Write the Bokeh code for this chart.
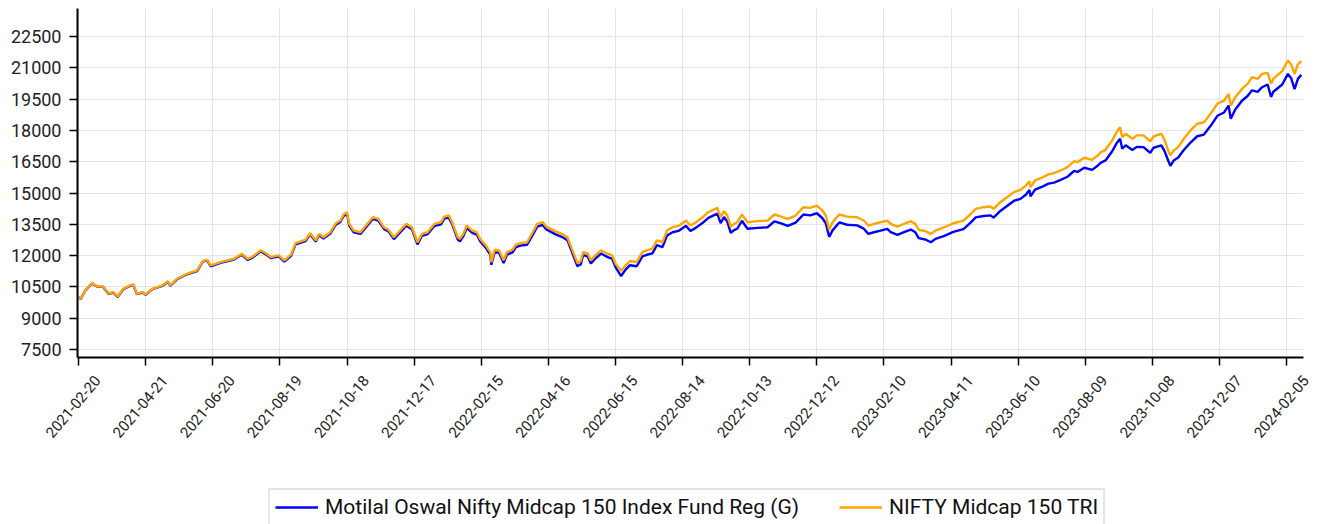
import pandas as pd
from bokeh.plotting import figure
from bokeh.layouts import column
from bokeh.models import (Range1d, FixedTicker, Legend, LegendItem, ColumnDataSource,
                          CustomJSTickFormatter, DatetimeTickFormatter)
from bokeh.embed import file_html
from bokeh.resources import INLINE

dates = [
    "2021-02-20", "2021-02-22", "2021-02-26", "2021-03-04", "2021-03-09", "2021-03-14", "2021-03-19", "2021-03-23",
    "2021-03-27", "2021-04-01", "2021-04-07", "2021-04-10", "2021-04-13", "2021-04-18", "2021-04-21", "2021-04-27",
    "2021-05-06", "2021-05-11", "2021-05-13", "2021-05-19", "2021-05-28", "2021-06-06", "2021-06-11", "2021-06-15",
    "2021-06-18", "2021-06-27", "2021-07-09", "2021-07-16", "2021-07-21", "2021-07-25", "2021-08-02", "2021-08-06",
    "2021-08-11", "2021-08-18", "2021-08-23", "2021-08-29", "2021-09-02", "2021-09-11", "2021-09-15", "2021-09-20",
    "2021-09-23", "2021-09-27", "2021-10-03", "2021-10-08", "2021-10-12", "2021-10-15", "2021-10-18", "2021-10-20",
    "2021-10-24", "2021-10-30", "2021-11-04", "2021-11-10", "2021-11-15", "2021-11-20", "2021-11-24", "2021-11-29",
    "2021-12-03", "2021-12-10", "2021-12-15", "2021-12-20", "2021-12-24", "2021-12-29", "2022-01-04", "2022-01-10",
    "2022-01-13", "2022-01-17", "2022-01-20", "2022-01-25", "2022-01-27", "2022-01-30", "2022-02-02", "2022-02-07",
    "2022-02-11", "2022-02-14", "2022-02-19", "2022-02-23", "2022-02-24", "2022-02-27", "2022-03-03", "2022-03-07",
    "2022-03-10", "2022-03-15", "2022-03-18", "2022-03-22", "2022-03-28", "2022-04-02", "2022-04-06", "2022-04-11",
    "2022-04-14", "2022-04-18", "2022-04-22", "2022-04-28", "2022-05-03", "2022-05-07", "2022-05-12", "2022-05-15",
    "2022-05-17", "2022-05-21", "2022-05-24", "2022-05-28", "2022-06-02", "2022-06-08", "2022-06-12", "2022-06-15",
    "2022-06-20", "2022-06-24", "2022-06-28", "2022-07-04", "2022-07-09", "2022-07-13", "2022-07-18", "2022-07-22",
    "2022-07-27", "2022-07-31", "2022-08-05", "2022-08-11", "2022-08-17", "2022-08-21", "2022-08-26", "2022-09-01",
    "2022-09-06", "2022-09-14", "2022-09-17", "2022-09-20", "2022-09-23", "2022-09-26", "2022-09-29", "2022-10-02",
    "2022-10-06", "2022-10-11", "2022-10-20", "2022-10-29", "2022-11-04", "2022-11-10", "2022-11-16", "2022-11-23",
    "2022-11-30", "2022-12-06", "2022-12-12", "2022-12-17", "2022-12-20", "2022-12-23", "2022-12-26", "2023-01-01",
    "2023-01-08", "2023-01-17", "2023-01-23", "2023-01-27", "2023-02-01", "2023-02-07", "2023-02-13", "2023-02-16",
    "2023-02-22", "2023-03-01", "2023-03-06", "2023-03-10", "2023-03-13", "2023-03-19", "2023-03-24", "2023-03-28",
    "2023-04-05", "2023-04-13", "2023-04-22", "2023-04-28", "2023-05-03", "2023-05-10", "2023-05-16", "2023-05-19",
    "2023-05-25", "2023-05-31", "2023-06-06", "2023-06-12", "2023-06-17", "2023-06-20", "2023-06-21", "2023-06-25",
    "2023-07-01", "2023-07-07", "2023-07-12", "2023-07-18", "2023-07-24", "2023-07-30", "2023-08-02", "2023-08-08",
    "2023-08-15", "2023-08-20", "2023-08-23", "2023-08-27", "2023-09-02", "2023-09-06", "2023-09-09", "2023-09-11",
    "2023-09-14", "2023-09-20", "2023-09-24", "2023-09-30", "2023-10-06", "2023-10-09", "2023-10-16", "2023-10-19",
    "2023-10-22", "2023-10-24", "2023-10-27", "2023-10-31", "2023-11-05", "2023-11-11", "2023-11-17", "2023-11-23",
    "2023-11-29", "2023-12-05", "2023-12-11", "2023-12-15", "2023-12-17", "2023-12-21", "2023-12-27", "2024-01-01",
    "2024-01-05", "2024-01-10", "2024-01-14", "2024-01-19", "2024-01-22", "2024-01-24", "2024-01-29", "2024-02-01",
    "2024-02-06", "2024-02-09", "2024-02-12", "2024-02-15", "2024-02-18",
]

nifty_tri = [
    10000, 9930, 10330, 10680, 10520, 10520, 10185, 10250,
    10040, 10410, 10570, 10620, 10170, 10250, 10140, 10410,
    10570, 10770, 10570, 10890, 11130, 11290, 11740, 11800,
    11530, 11690, 11850, 12090, 11850, 11930, 12260, 12120,
    11930, 12010, 11770, 12050, 12600, 12760, 13080, 12730,
    13040, 12880, 13120, 13550, 13680, 13970, 14080, 13520,
    13200, 13120, 13440, 13840, 13760, 13360, 13240, 12880,
    13120, 13520, 13360, 12640, 13040, 13120, 13520, 13600,
    13870, 13920, 13600, 12880, 12800, 13040, 13440, 13200,
    13120, 12800, 12490, 12170, 11690, 12280, 12250, 11770,
    12170, 12280, 12530, 12600, 12640, 13120, 13520, 13600,
    13390, 13280, 13170, 13040, 12880, 12320, 11640, 11740,
    12170, 12120, 11770, 12010, 12250, 12090, 12010, 11610,
    11270, 11530, 11740, 11690, 12170, 12250, 12330, 12730,
    12640, 13200, 13360, 13440, 13680, 13440, 13600, 13840,
    14080, 14290, 13840, 14130, 13920, 13390, 13520, 13600,
    13970, 13600, 13650, 13680, 13970, 13870, 13760, 13920,
    14320, 14290, 14400, 14160, 13920, 13240, 13600, 13970,
    13870, 13840, 13680, 13440, 13520, 13600, 13680, 13520,
    13390, 13550, 13650, 13520, 13240, 13170, 13040, 13200,
    13360, 13550, 13680, 13970, 14240, 14320, 14350, 14240,
    14560, 14800, 15040, 15150, 15360, 15570, 15280, 15600,
    15730, 15890, 15950, 16080, 16240, 16530, 16480, 16690,
    16590, 16800, 16960, 17070, 17520, 17920, 18150, 17670,
    17840, 17600, 17760, 17760, 17480, 17710, 17840, 17520,
    17040, 16800, 17040, 17200, 17600, 18000, 18320, 18390,
    18800, 19280, 19430, 19750, 19190, 19590, 19990, 20230,
    20550, 20470, 20710, 20760, 20230, 20470, 20710, 20840,
    21350, 21160, 20710, 21160, 21320,
]

motilal_fund = [
    10000, 9925, 10320, 10665, 10505, 10500, 10165, 10230,
    10020, 10390, 10550, 10600, 10150, 10230, 10120, 10390,
    10545, 10745, 10545, 10865, 11105, 11260, 11710, 11770,
    11490, 11650, 11810, 12050, 11800, 11880, 12210, 12070,
    11880, 11960, 11710, 11990, 12540, 12700, 13020, 12670,
    12980, 12820, 13060, 13480, 13610, 13900, 14000, 13440,
    13120, 13040, 13360, 13760, 13680, 13280, 13160, 12790,
    13030, 13430, 13270, 12540, 12950, 13030, 13420, 13500,
    13770, 13820, 13500, 12770, 12690, 12930, 13330, 13090,
    13010, 12690, 12380, 12050, 11560, 12160, 12130, 11640,
    12050, 12160, 12410, 12480, 12520, 12990, 13390, 13470,
    13260, 13150, 13030, 12900, 12740, 12180, 11490, 11590,
    12020, 11970, 11620, 11860, 12100, 11930, 11850, 11450,
    11020, 11330, 11540, 11490, 11960, 12040, 12110, 12500,
    12410, 12960, 13120, 13200, 13430, 13180, 13340, 13570,
    13810, 14010, 13560, 13850, 13630, 13090, 13220, 13300,
    13670, 13290, 13330, 13360, 13640, 13540, 13420, 13580,
    13970, 13930, 14030, 13790, 13540, 12900, 13210, 13590,
    13480, 13450, 13290, 13040, 13120, 13200, 13280, 13120,
    12990, 13150, 13250, 13120, 12840, 12770, 12640, 12800,
    12950, 13140, 13270, 13560, 13830, 13900, 13930, 13820,
    14140, 14380, 14620, 14720, 14930, 15140, 14840, 15160,
    15290, 15450, 15500, 15630, 15780, 16060, 16010, 16210,
    16110, 16310, 16460, 16560, 17000, 17390, 17600, 17120,
    17290, 17060, 17210, 17200, 16920, 17170, 17280, 16980,
    16560, 16300, 16560, 16700, 17060, 17420, 17720, 17800,
    18220, 18700, 18860, 19190, 18560, 19000, 19420, 19650,
    19920, 19850, 20070, 20200, 19600, 19850, 20070, 20200,
    20710, 20500, 19980, 20470, 20660,
]

x_tick_labels = [
    "2021-02-20", "2021-04-21", "2021-06-20", "2021-08-19", "2021-10-18", "2021-12-17",
    "2022-02-15", "2022-04-16", "2022-06-15", "2022-08-14", "2022-10-13", "2022-12-12",
    "2023-02-10", "2023-04-11", "2023-06-10", "2023-08-09", "2023-10-08", "2023-12-07",
    "2024-02-05",
]
y_ticks = [7500, 9000, 10500, 12000, 13500, 15000, 16500, 18000, 19500, 21000, 22500]

series_names = ["Motilal Oswal Nifty Midcap 150 Index Fund Reg (G)", "NIFTY Midcap 150 TRI"]
series_colors = ["#0000ff", "#ffa500"]

FONT = "Roboto"

epoch = pd.Timestamp("1970-01-01")
def to_ms(t):
    return float((pd.Timestamp(t) - epoch) / pd.Timedelta(milliseconds=1))

tick_ms = [to_ms(t) for t in x_tick_labels]
x_start = to_ms("2021-02-19 02:00")
x_end = to_ms("2024-02-20")

# ---- layout constants (pixels) ----
W = 1320
FRAME_L, FRAME_R, FRAME_T = 77, 17, 8
FRAME_H = 349
MAIN_BOTTOM = 10
MAIN_H = FRAME_T + FRAME_H + MAIN_BOTTOM
BOT_H = 524 - MAIN_H
LABEL_SHIFT_PX = 30          # moves each rotated label so that it sits centred under its tick
LEGEND_X, LEGEND_Y = 268, -2
LINE_W = 2.4

src = ColumnDataSource(dict(x=pd.to_datetime(dates), fund=motilal_fund, tri=nifty_tri))

p = figure(width=W, height=MAIN_H, x_axis_type="datetime",
           output_backend="svg", toolbar_location=None,
           x_range=Range1d(x_start, x_end),
           y_range=Range1d(7117, 23842),
           min_border_left=FRAME_L, min_border_right=FRAME_R, min_border_top=FRAME_T,
           min_border_bottom=MAIN_BOTTOM)
p.frame_align = False
p.outline_line_color = None
p.background_fill_color = "white"
p.border_fill_color = "white"

r1 = p.line("x", "fund", source=src, line_color=series_colors[0], line_width=LINE_W)
r2 = p.line("x", "tri", source=src, line_color=series_colors[1], line_width=LINE_W)

xa = p.xaxis[0]
xa.ticker = FixedTicker(ticks=tick_ms)
xa.formatter = CustomJSTickFormatter(code="return ''")
xa.major_label_text_font_size = "1px"
xa.major_label_standoff = 0

ya = p.yaxis[0]
ya.ticker = FixedTicker(ticks=y_ticks)
ya.major_label_text_font = FONT
ya.major_label_text_font_size = "18px"
ya.major_label_text_color = "#222222"
ya.major_label_standoff = 8

for ax in (xa, ya):
    ax.axis_line_color = "black"
    ax.axis_line_width = 2
    ax.major_tick_line_color = "black"
    ax.major_tick_line_width = 1.5
    ax.major_tick_out = 8
    ax.major_tick_in = 0
    ax.minor_tick_line_color = None
    ax.minor_tick_out = 0

p.xgrid.grid_line_color = "#e4e4e4"
p.ygrid.grid_line_color = "#e4e4e4"

# ---- bottom strip: rotated tick labels (axis above its frame) and the legend ----
span = x_end - x_start
per_px = span / (W - FRAME_L - FRAME_R)
b_start = x_start - FRAME_L * per_px
b_end = x_start + (W - FRAME_L) * per_px
D = LABEL_SHIFT_PX * per_px

q = figure(width=W, height=BOT_H, output_backend="svg", toolbar_location=None,
           x_axis_type="datetime", x_axis_location="above", y_axis_location=None,
           x_range=Range1d(b_start + D, b_end + D), y_range=Range1d(0, 1), min_border=0)
q.frame_align = False
q.outline_line_color = None
q.grid.visible = False
q.background_fill_color = "white"
q.border_fill_color = "white"

fmt = "%Y-%m-%d"
xl = q.xaxis[0]
xl.ticker = FixedTicker(ticks=tick_ms)
xl.formatter = DatetimeTickFormatter(milliseconds=fmt, seconds=fmt, minsec=fmt, minutes=fmt,
                                     hourmin=fmt, hours=fmt, days=fmt, months=fmt, years=fmt)
xl.axis_line_color = None
xl.major_tick_line_color = None
xl.minor_tick_line_color = None
xl.major_tick_out = 0
xl.major_tick_in = 0
xl.minor_tick_out = 0
xl.minor_tick_in = 0
xl.major_label_standoff = 2
xl.major_label_orientation = 0.87
xl.major_label_text_font = FONT
xl.major_label_text_font_size = "15px"
xl.major_label_text_color = "#222222"

# legend keys (kept below the visible strip)
key_src = ColumnDataSource(dict(x=[b_start + D, b_end + D], y=[-5, -5]))
d1 = q.line("x", "y", source=key_src, line_color=series_colors[0], line_width=LINE_W)
d2 = q.line("x", "y", source=key_src, line_color=series_colors[1], line_width=LINE_W)

legend = Legend(items=[LegendItem(label=series_names[0], renderers=[d1]),
                       LegendItem(label=series_names[1], renderers=[d2])],
                orientation="horizontal", location=(LEGEND_X, LEGEND_Y))
legend.label_text_font = FONT
legend.label_text_font_size = "21px"
legend.label_text_color = "#111111"
legend.glyph_width = 43
legend.glyph_height = 20
legend.label_height = 20
legend.label_standoff = 7
legend.spacing = 40
legend.padding = 5
legend.margin = 0
legend.border_line_color = "#cccccc"
legend.border_line_width = 2
legend.background_fill_color = "white"
legend.background_fill_alpha = 1
q.add_layout(legend, "center")

layout = column(p, q, spacing=0)
open("out.html", "w").write(file_html(layout, INLINE))
